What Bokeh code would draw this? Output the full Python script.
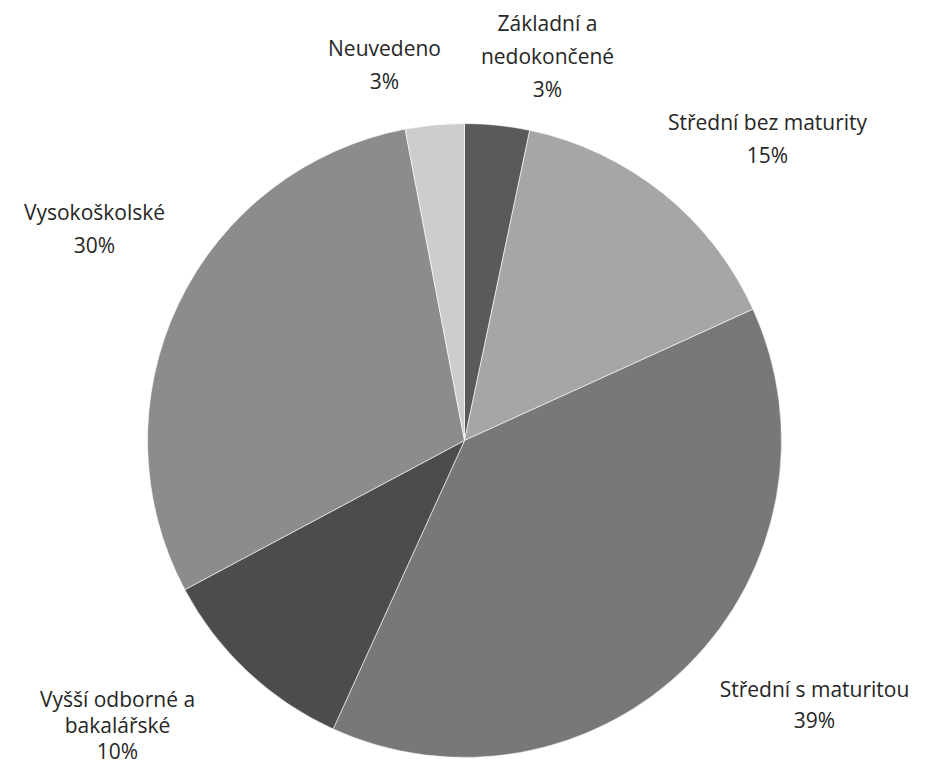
import math
from bokeh.plotting import figure
from bokeh.models import Range1d, ColumnDataSource
from bokeh.core.properties import value
from bokeh.embed import file_html
from bokeh.resources import INLINE

# ---- data ----
categories = ["Základní a\nnedokončené", "Střední bez maturity", "Střední s maturitou",
              "Vyšší odborné a\nbakalářské", "Vysokoškolské", "Neuvedeno"]
shares = [3.3, 14.9, 38.6, 10.4, 29.8, 3.0]
colors = ["#5a5a5a", "#a6a6a6", "#787878", "#4b4d4c", "#8c8c8c", "#cdcdcd"]

# ---- layout (pixel positions of label centres: x, first-line y, line step) ----
W, H = 913, 767
CX, CY, R = 464, 440, 317
label_pos = [(547, 22, 33), (767, 121, 33), (814, 688, 31), (117, 698, 26), (94, 211, 33), (384, 47, 33)]

def fy(sy):
    return 783 - sy

p = figure(width=W, height=H, output_backend="svg", toolbar_location=None,
           x_range=Range1d(0, W), y_range=Range1d(783 - H, 783),
           min_border=0)
p.axis.visible = False
p.grid.visible = False
p.outline_line_color = None

total = sum(shares)
starts, ends = [], []
acc = 0.0
for s in shares:
    a0 = math.pi / 2 - 2 * math.pi * acc / total
    acc += s
    a1 = math.pi / 2 - 2 * math.pi * acc / total
    starts.append(a0)
    ends.append(a1)

src = ColumnDataSource(dict(start=starts, end=ends, color=colors))
p.wedge(x=CX, y=fy(CY), radius=R, start_angle="start", end_angle="end",
        direction="clock", fill_color="color", line_color="white",
        line_width=1, line_alpha=0.6, source=src)

tx, ty, tt = [], [], []
for cat, s, (lx, ly, step) in zip(categories, shares, label_pos):
    lines = cat.split("\n") + [f"{round(s / total * 100)}%"]
    for i, ln in enumerate(lines):
        tx.append(lx)
        ty.append(fy(ly + i * step))
        tt.append(ln)

p.text(x=tx, y=ty, text=tt, text_align="center", text_baseline="middle",
       text_font=value("Open Sans"), text_font_size="21px", text_color="#262626")

open("out.html", "w").write(file_html(p, INLINE))
